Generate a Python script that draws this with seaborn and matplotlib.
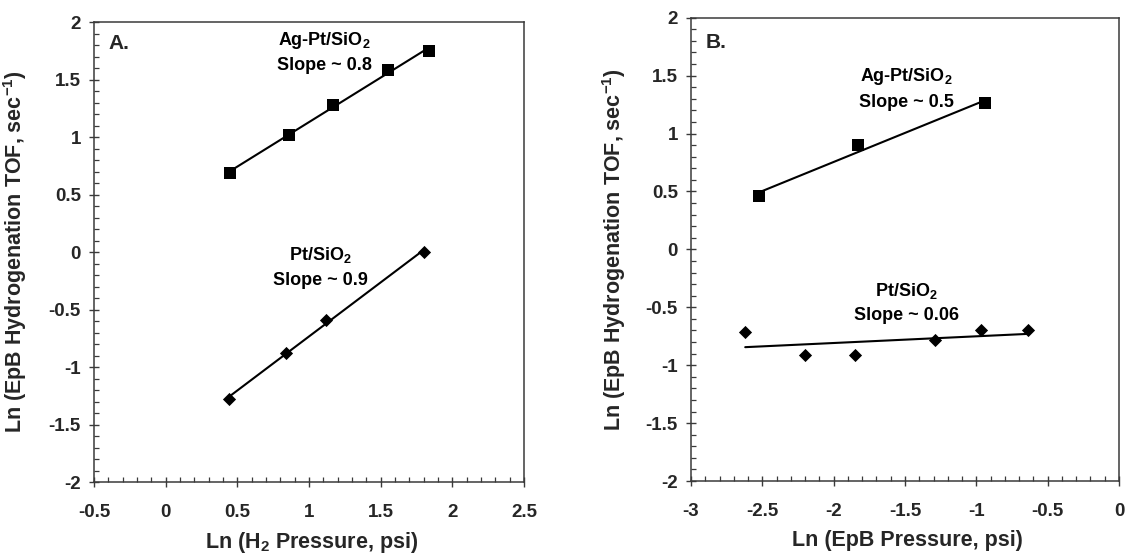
import numpy as np
import pandas as pd
import matplotlib
matplotlib.use("Agg")
import matplotlib.pyplot as plt
import seaborn as sns
from matplotlib.ticker import MultipleLocator, FuncFormatter

# ---- data ----
a_agpt_x = [0.45, 0.86, 1.17, 1.55, 1.84]
a_agpt_y = [0.69, 1.02, 1.28, 1.58, 1.75]
a_pt_x = [0.44, 0.84, 1.12, 1.80]
a_pt_y = [-1.28, -0.88, -0.59, 0.00]

b_agpt_x = [-2.52, -1.83, -0.94]
b_agpt_y = [0.46, 0.90, 1.26]
b_pt_x = [-2.62, -2.20, -1.85, -1.29, -0.97, -0.64]
b_pt_y = [-0.71, -0.91, -0.91, -0.78, -0.70, -0.70]

a_xticks = [-0.5, 0, 0.5, 1, 1.5, 2, 2.5]
b_xticks = [-3, -2.5, -2, -1.5, -1, -0.5, 0]
yticks = [-2, -1.5, -1, -0.5, 0, 0.5, 1, 1.5, 2]

sns.set_theme(style="white")
plt.rcParams['font.family'] = ['Liberation Sans', 'DejaVu Sans']
plt.rcParams['font.weight'] = 'bold'
plt.rcParams['mathtext.fontset'] = 'custom'
plt.rcParams['mathtext.rm'] = 'Liberation Sans:bold'
plt.rcParams['mathtext.bf'] = 'Liberation Sans:bold'
plt.rcParams['mathtext.it'] = 'Liberation Sans:bold'
plt.rcParams['mathtext.default'] = 'bf'

fig = plt.figure(figsize=(11.28, 5.57), dpi=100)
axA = fig.add_axes([0.0833, 0.1346, 0.3812, 0.8259])
axB = fig.add_axes([0.6126, 0.1364, 0.3794, 0.8318])

SPINE = '#3a3a3a'
TICKFS = 13.5
LABFS = 15.5
ANNFS = 13


def fmt(v, pos):
    return '%g' % v


def style(ax, xlim, xticks, xlabel):
    ax.set_xlim(*xlim)
    ax.set_ylim(-2, 2)
    ax.set_xticks(xticks)
    ax.set_yticks(yticks)
    ax.xaxis.set_minor_locator(MultipleLocator(0.1))
    ax.yaxis.set_minor_locator(MultipleLocator(0.1))
    ax.xaxis.set_major_formatter(FuncFormatter(fmt))
    ax.yaxis.set_major_formatter(FuncFormatter(fmt))
    for s in ax.spines.values():
        s.set_visible(True)
        s.set_color(SPINE)
        s.set_linewidth(1.1)
    ax.tick_params(which='major', direction='inout', length=7, width=1.0,
                   color=SPINE, labelsize=TICKFS, bottom=True, left=True,
                   top=False, right=False)
    ax.tick_params(axis='x', which='major', pad=12)
    ax.tick_params(axis='y', which='major', pad=6)
    ax.tick_params(which='minor', direction='in', length=3.6, width=0.9,
                   color=SPINE, bottom=True, left=True, top=False, right=False)
    for lab in ax.get_xticklabels() + ax.get_yticklabels():
        lab.set_fontweight('bold')
    ax.set_xlabel(xlabel, fontsize=LABFS, fontweight='bold')
    ax.set_ylabel(r'Ln (EpB Hydrogenation TOF, sec$^{-1}$)',
                  fontsize=LABFS, fontweight='bold')
    ax.grid(False)


def series(ax, x, y, marker, ms):
    df = pd.DataFrame({'x': x, 'y': y})
    sns.regplot(data=df, x='x', y='y', ax=ax, ci=None, scatter=False,
                truncate=True, color='black', line_kws={'lw': 1.5})
    sns.scatterplot(data=df, x='x', y='y', ax=ax, marker=marker, s=ms,
                    color='black', edgecolor='black', linewidth=0, zorder=5)


series(axA, a_agpt_x, a_agpt_y, 's', 80)
series(axA, a_pt_x, a_pt_y, 'D', 45)
series(axB, b_agpt_x, b_agpt_y, 's', 80)
series(axB, b_pt_x, b_pt_y, 'D', 45)

style(axA, (-0.5, 2.5), a_xticks, r'Ln (H$_2$ Pressure, psi)')
style(axB, (-3, 0), b_xticks, 'Ln (EpB Pressure, psi)')

axA.yaxis.set_label_coords(-0.150, 0.5)
axB.yaxis.set_label_coords(-0.148, 0.5)
for ax in (axA, axB):
    ax.xaxis.set_label_coords(0.505, -0.105)

tk = dict(fontsize=ANNFS, fontweight='bold', ha='center', va='center', color='black')
axA.text(1.105, 1.835, r'Ag-Pt/SiO$_2$', **tk)
axA.text(1.105, 1.626, 'Slope ~ 0.8', **tk)
axA.text(1.077, -0.026, r'Pt/SiO$_2$', **tk)
axA.text(1.077, -0.252, 'Slope ~ 0.9', **tk)
axA.text(-0.40, 1.81, 'A.', fontsize=15, fontweight='bold', ha='left', va='center')

axB.text(-1.49, 1.489, r'Ag-Pt/SiO$_2$', **tk)
axB.text(-1.49, 1.269, 'Slope ~ 0.5', **tk)
axB.text(-1.49, -0.356, r'Pt/SiO$_2$', **tk)
axB.text(-1.49, -0.572, 'Slope ~ 0.06', **tk)
axB.text(-2.9, 1.79, 'B.', fontsize=15, fontweight='bold', ha='left', va='center')

fig.savefig('out.png', dpi=100)
